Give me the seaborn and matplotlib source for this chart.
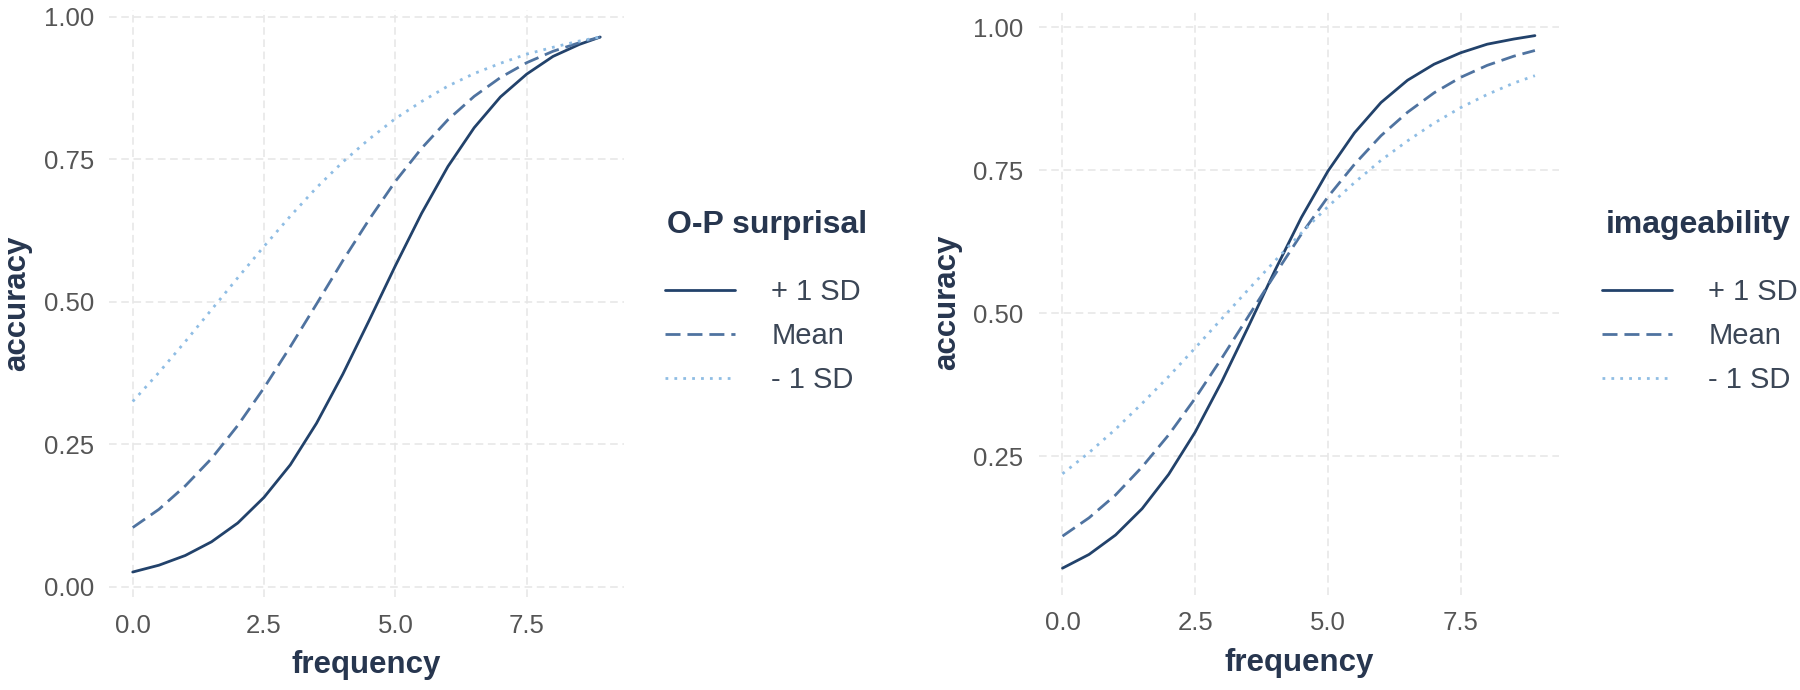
import matplotlib
matplotlib.use("Agg")
import matplotlib.pyplot as plt
import pandas as pd
import seaborn as sns
from matplotlib.lines import Line2D

# Data (predicted accuracy by word frequency)
freq = [0.0, 0.5, 1.0, 1.5, 2.0, 2.5, 3.0, 3.5, 4.0, 4.5,
        5.0, 5.5, 6.0, 6.5, 7.0, 7.5, 8.0, 8.5, 8.9]
levels = ["+ 1 SD", "Mean", "- 1 SD"]

# left panel: O-P surprisal
surprisal_hi = [0.026, 0.038, 0.055, 0.079, 0.112, 0.157, 0.214, 0.287, 0.373, 0.467,
                0.563, 0.655, 0.737, 0.805, 0.859, 0.899, 0.930, 0.951, 0.964]
surprisal_mean = [0.104, 0.136, 0.177, 0.225, 0.283, 0.349, 0.421, 0.496, 0.572, 0.644,
                  0.711, 0.769, 0.819, 0.860, 0.893, 0.919, 0.939, 0.954, 0.964]
surprisal_lo = [0.325, 0.376, 0.430, 0.486, 0.542, 0.597, 0.650, 0.700, 0.745, 0.785,
                0.821, 0.851, 0.878, 0.900, 0.918, 0.934, 0.946, 0.957, 0.964]

# right panel: imageability
image_hi = [0.054, 0.078, 0.112, 0.158, 0.218, 0.292, 0.380, 0.476, 0.574, 0.667,
            0.748, 0.815, 0.868, 0.907, 0.935, 0.955, 0.970, 0.979, 0.985]
image_mean = [0.110, 0.142, 0.182, 0.231, 0.287, 0.351, 0.421, 0.494, 0.567, 0.638,
              0.703, 0.760, 0.810, 0.851, 0.885, 0.912, 0.933, 0.949, 0.959]
image_lo = [0.219, 0.256, 0.297, 0.342, 0.389, 0.439, 0.490, 0.541, 0.591, 0.640,
            0.686, 0.728, 0.767, 0.801, 0.832, 0.859, 0.882, 0.902, 0.915]

xticks = [0.0, 2.5, 5.0, 7.5]
left_yticks = [0.00, 0.25, 0.50, 0.75, 1.00]
right_yticks = [0.25, 0.50, 0.75, 1.00]

palette = {"+ 1 SD": "#22426b", "Mean": "#4f73a0", "- 1 SD": "#8fbde4"}
dashes = {"+ 1 SD": "", "Mean": (5.4, 2.5), "- 1 SD": (1.0, 2.2)}
line_ls = {"+ 1 SD": "-", "Mean": (0, (5.4, 2.5)), "- 1 SD": (0, (1.0, 2.2))}

sns.set_theme(style="white")
plt.rcParams["font.family"] = ["Liberation Sans", "DejaVu Sans"]

title_color = "#27364f"
tick_color = "#555555"
label_color = "#3b4656"


def make_df(hi, mean, lo):
    return pd.DataFrame({
        "frequency": freq * 3,
        "accuracy": hi + mean + lo,
        "level": [lv for lv in levels for _ in freq],
    })


def draw_panel(ax, df, yticks, ylim, legend_title, legend_x, title_x):
    sns.lineplot(data=df, x="frequency", y="accuracy", hue="level", style="level",
                 hue_order=levels, style_order=levels, palette=palette, dashes=dashes,
                 linewidth=2, estimator=None, sort=False, legend=False, ax=ax)
    ax.set_xlim(-0.45, 9.35)
    ax.set_ylim(*ylim)
    ax.set_xticks(xticks)
    ax.set_xticklabels([f"{t:.1f}" for t in xticks])
    ax.set_yticks(yticks)
    ax.set_yticklabels([f"{t:.2f}" for t in yticks])
    ax.grid(True, color="#e6e6e6", linestyle=(0, (5, 3)), linewidth=1.1)
    ax.set_axisbelow(True)
    for s in ax.spines.values():
        s.set_visible(False)
    ax.tick_params(axis="x", length=0, pad=12, labelsize=18.5, labelcolor=tick_color)
    ax.tick_params(axis="y", length=0, pad=11, labelsize=18.5, labelcolor=tick_color)
    ax.set_xlabel("frequency", fontsize=22.5, fontweight="bold", color=title_color, labelpad=9)
    ax.set_ylabel("accuracy", fontsize=22.5, fontweight="bold", color=title_color, labelpad=8)

    # legend: title as separate text so the gap matches ggplot
    fig = ax.figure
    fig.text(title_x, 1 - 225 / 690, legend_title, fontsize=23, fontweight="bold",
             color=title_color, ha="left", va="center")
    handles = [Line2D([], [], color=palette[lv], linestyle=line_ls[lv], linewidth=2)
               for lv in levels]
    leg = fig.legend(handles, levels, loc="center left",
                     bbox_to_anchor=(legend_x, 1 - 336 / 690), frameon=False,
                     borderaxespad=0, borderpad=0,
                     fontsize=21, handlelength=2.4, handletextpad=1.24,
                     labelspacing=0.55)
    for t in leg.get_texts():
        t.set_color(label_color)


fig = plt.figure(figsize=(18, 6.9), dpi=100)
ax1 = fig.add_axes([0.0606, 0.135, 0.286, 0.851])
ax2 = fig.add_axes([0.577, 0.138, 0.289, 0.849])

draw_panel(ax1, make_df(surprisal_hi, surprisal_mean, surprisal_lo),
           left_yticks, (-0.0175, 1.012), "O-P surprisal", 665 / 1800, 667 / 1800)
draw_panel(ax2, make_df(image_hi, image_mean, image_lo),
           right_yticks, (0.0075, 1.0316), "imageability", 1602 / 1800, 1606 / 1800)

fig.savefig("out.png", dpi=100)
